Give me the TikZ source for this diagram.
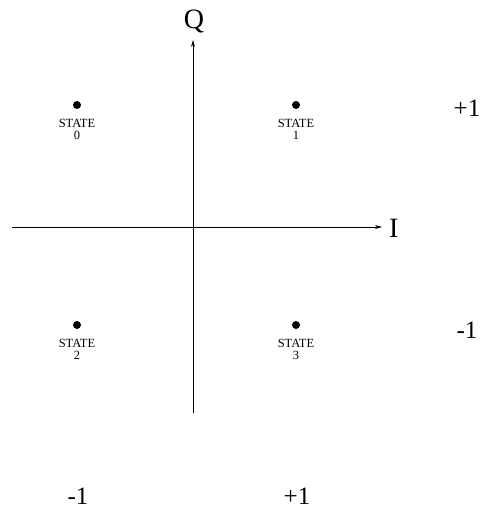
\documentclass[tikz,border=0pt]{standalone}
\usepackage{fontspec}
\setmainfont{Liberation Serif}
\usetikzlibrary{arrows.meta,positioning}

\begin{document}
\begin{tikzpicture}[
  x=1pt, y=-1pt,
  axis/.style={-{Stealth[length=7pt,width=4pt]}, line width=0.7pt},
  pt/.style={circle, fill=black, inner sep=0pt, minimum size=8pt},
  state/.style={font=\fontsize{12.5}{12}\selectfont, align=center, inner sep=1pt},
  axlbl/.style={font=\fontsize{28}{28}\selectfont, inner sep=0pt},
  val/.style={font=\fontsize{25}{25}\selectfont, inner sep=0pt},
]
\useasboundingbox (0,0) rectangle (484,510);
% axes
\coordinate (iorg) at (12,227);
\coordinate (iend) at (382,227);
\coordinate (qorg) at (193,413);
\coordinate (qend) at (193,40);
\draw[axis] (iorg) -- (iend);
\draw[axis] (qorg) -- (qend);
\node[axlbl] (qlbl) at (194,22) {Q};
\node[axlbl, anchor=west] (ilbl) at (389,228) {I};
% states
\node[pt] (s0) at (77,105) {};
\node[pt] (s1) at (296,105) {};
\node[pt] (s2) at (77,325) {};
\node[pt] (s3) at (296,325) {};
\node[state, below=9pt of s0] (l0) {STATE\\0};
\node[state, below=9pt of s1] (l1) {STATE\\1};
\node[state, below=9pt of s2] (l2) {STATE\\2};
\node[state, below=9pt of s3] (l3) {STATE\\3};
% levels
\node[val] (qp) at (467,108) {+1};
\node[val] (qm) at (467,330) {-1};
\node[val, anchor=base] (im) at (78,504) {-1};
\node[val, anchor=base] (ip) at (297,504) {+1};
\end{tikzpicture}
\end{document}
